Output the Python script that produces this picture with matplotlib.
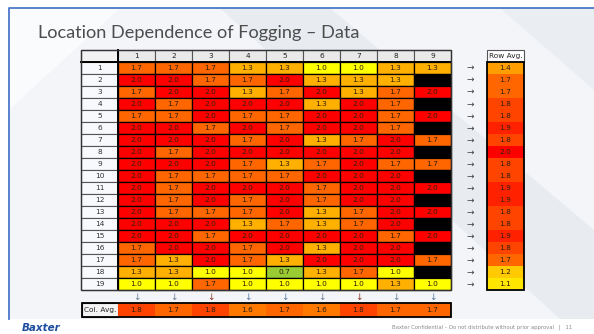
import numpy as np
import matplotlib.pyplot as plt
from matplotlib.colors import LinearSegmentedColormap
from matplotlib.patches import Rectangle, Polygon

# fogging score per location (row 1-19, column 1-9); nan = no position (black)
columns = ["1", "2", "3", "4", "5", "6", "7", "8", "9"]
rows = [str(i) for i in range(1, 20)]
n = np.nan
scores = np.array([
    [1.7, 1.7, 1.7, 1.3, 1.3, 1.0, 1.0, 1.3, 1.3],
    [2.0, 2.0, 1.7, 1.7, 2.0, 1.3, 1.3, 1.3, n],
    [1.7, 2.0, 2.0, 1.3, 1.7, 2.0, 1.3, 1.7, 2.0],
    [2.0, 1.7, 2.0, 2.0, 2.0, 1.3, 2.0, 1.7, n],
    [1.7, 1.7, 2.0, 1.7, 1.7, 2.0, 2.0, 1.7, 2.0],
    [2.0, 2.0, 1.7, 2.0, 1.7, 2.0, 2.0, 1.7, n],
    [2.0, 2.0, 2.0, 1.7, 2.0, 1.3, 1.7, 2.0, 1.7],
    [2.0, 1.7, 2.0, 2.0, 2.0, 2.0, 2.0, 2.0, n],
    [2.0, 2.0, 2.0, 1.7, 1.3, 1.7, 2.0, 1.7, 1.7],
    [2.0, 1.7, 1.7, 1.7, 1.7, 2.0, 2.0, 2.0, n],
    [2.0, 1.7, 2.0, 2.0, 2.0, 1.7, 2.0, 2.0, 2.0],
    [2.0, 1.7, 2.0, 1.7, 2.0, 1.7, 2.0, 2.0, n],
    [2.0, 1.7, 1.7, 1.7, 2.0, 1.3, 1.7, 2.0, 2.0],
    [2.0, 2.0, 2.0, 1.3, 1.7, 1.3, 1.7, 2.0, n],
    [2.0, 2.0, 1.7, 2.0, 2.0, 2.0, 2.0, 1.7, 2.0],
    [1.7, 2.0, 2.0, 1.7, 2.0, 1.3, 2.0, 2.0, n],
    [1.7, 1.3, 2.0, 1.7, 1.3, 2.0, 2.0, 2.0, 1.7],
    [1.3, 1.3, 1.0, 1.0, 0.7, 1.3, 1.7, 1.0, n],
    [1.0, 1.0, 1.7, 1.0, 1.0, 1.0, 1.0, 1.3, 1.0],
])
row_avg = [1.4, 1.7, 1.7, 1.8, 1.8, 1.9, 1.8, 2.0, 1.8, 1.8,
           1.9, 1.9, 1.8, 1.8, 1.9, 1.8, 1.7, 1.2, 1.1]
col_avg = [1.8, 1.7, 1.8, 1.6, 1.7, 1.6, 1.8, 1.7, 1.7]

# colour scale like the conditional formatting in the slide
cmap = LinearSegmentedColormap.from_list(
    "fog", [(0.0, "#99cc33"), (0.3 / 1.3, "#ffff00"), (0.6 / 1.3, "#ffb000"),
            (1.0 / 1.3, "#ff6600"), (1.0, "#ff0000")])
def col_of(v):
    return cmap((v - 0.7) / 1.3)

W, H = 594, 334
fig = plt.figure(figsize=(W / 100, H / 100), dpi=100)
ax = fig.add_axes([0, 0, 1, 1])
ax.set_xlim(0, W)
ax.set_ylim(H, 0)
ax.axis("off")

# slide background
ax.add_patch(Rectangle((9, 8), W - 9, 311, facecolor="#f3f5f8", edgecolor="none", zorder=0))
ax.add_patch(Polygon([(220, 8), (330, 8), (594, 230), (594, 319), (560, 319)],
                     facecolor="#e8ecf1", edgecolor="none", zorder=0))
ax.add_patch(Polygon([(9, 8), (120, 8), (9, 110)], facecolor="#fafbfc", edgecolor="none", zorder=0))
ax.add_patch(Polygon([(500, 8), (594, 8), (594, 90)], facecolor="#eaeef3", edgecolor="none", zorder=0))
ax.plot([9, 9, W], [319, 8, 8], color="#4a78c8", lw=1.3, zorder=1)

ax.text(38, 38, "Location Dependence of Fogging \u2013 Data", fontsize=13.1,
        family="Lato", color="#4d4d4d", va="baseline", ha="left")

# table layout
x0, lab_w, cw = 81, 37, 37
y0, hh, rh = 50, 11.5, 12.05
xs = x0 + lab_w
ytop = y0 + hh
tfs = 5.3
tcol = "#2e1f0c"

# header row
ax.add_patch(Rectangle((x0, y0), lab_w, hh, facecolor="#f2f2f2", edgecolor="#555555", lw=0.8, zorder=2))
for j, c in enumerate(columns):
    ax.add_patch(Rectangle((xs + j * cw, y0), cw, hh, facecolor="#e9e9e9",
                           edgecolor="#555555", lw=0.8, zorder=2))
    ax.text(xs + (j + 0.5) * cw, y0 + hh / 2, c, fontsize=tfs, ha="center", va="center",
            color="#222222", zorder=4)

# data cells
for i, r in enumerate(rows):
    y = ytop + i * rh
    ax.add_patch(Rectangle((x0, y), lab_w, rh, facecolor="#f7f9fc", edgecolor="#555555", lw=0.8, zorder=2))
    ax.text(x0 + lab_w / 2, y + rh / 2, r, fontsize=tfs, ha="center", va="center", color="#333333", zorder=4)
    for j in range(len(columns)):
        v = scores[i, j]
        fc = "black" if np.isnan(v) else col_of(v)
        ax.add_patch(Rectangle((xs + j * cw, y), cw, rh, facecolor=fc, edgecolor="black", lw=0.9, zorder=2))
        if not np.isnan(v):
            ax.text(xs + (j + 0.5) * cw, y + rh / 2, f"{v:.1f}", fontsize=tfs, ha="center",
                    va="center", color=tcol, zorder=4)
    ax.text(470, y + rh / 2, "\u2192", fontsize=6.5, ha="center", va="center", color="#444444", zorder=4)

ybot = ytop + len(rows) * rh
ax.plot([xs, xs], [y0, ybot], color="black", lw=1.4, zorder=3)
ax.plot([x0, xs + 9 * cw], [ytop, ytop], color="black", lw=1.4, zorder=3)
ax.add_patch(Rectangle((x0, y0), xs + 9 * cw - x0, ybot - y0, facecolor="none",
                       edgecolor="#333333", lw=1.0, zorder=3))

# column averages
arrow_cols = ["#6a7f99", "#6a7f99", "#8a3a2a", "#5a7aa8", "#5a7aa8",
              "#6a7f99", "#8a3a2a", "#6a7f99", "#5a7aa8"]
ca_y, ca_h = 303, 14
ax.add_patch(Rectangle((x0 + 1, ca_y), lab_w - 1, ca_h, facecolor="#f4f4f4", edgecolor="#333333", lw=0.8, zorder=2))
ax.text(x0 + 1 + (lab_w - 1) / 2, ca_y + ca_h / 2, "Col. Avg.", fontsize=tfs, ha="center",
        va="center", color="#222222", zorder=4)
for j, v in enumerate(col_avg):
    ax.text(xs + (j + 0.5) * cw, 297.5, "\u2193", fontsize=6.5, ha="center", va="center",
            color=arrow_cols[j], zorder=4)
    ax.add_patch(Rectangle((xs + j * cw, ca_y), cw, ca_h, facecolor=col_of(v), edgecolor="none", zorder=2))
    ax.text(xs + (j + 0.5) * cw, ca_y + ca_h / 2, f"{v:.1f}", fontsize=tfs, ha="center",
            va="center", color=tcol, zorder=4)
ax.add_patch(Rectangle((x0 + 1, ca_y), xs + 9 * cw - x0 - 1, ca_h, facecolor="none",
                       edgecolor="black", lw=1.3, zorder=3))

# row averages
ra_x, ra_w = 487, 37
ax.add_patch(Rectangle((ra_x, y0), ra_w, hh, facecolor="white", edgecolor="#555555", lw=0.8, zorder=2))
ax.text(ra_x + ra_w / 2, y0 + hh / 2, "Row Avg.", fontsize=tfs, ha="center", va="center",
        color="#222222", zorder=4)
for i, v in enumerate(row_avg):
    y = ytop + i * rh
    ax.add_patch(Rectangle((ra_x, y), ra_w, rh, facecolor=col_of(v), edgecolor="none", zorder=2))
    ax.text(ra_x + ra_w / 2, y + rh / 2, f"{v:.1f}", fontsize=tfs, ha="center", va="center",
            color=tcol, zorder=4)
ax.add_patch(Rectangle((ra_x, ytop), ra_w, ybot - ytop, facecolor="none", edgecolor="black", lw=1.3, zorder=3))

# footer
ax.text(22, 328, "Baxter", fontsize=7.5, fontweight="bold", fontstyle="italic",
        color="#1f4ea0", ha="left", va="center")
ax.text(392, 327.5, "Baxter Confidential \u2013 Do not distribute without prior approval   |   11",
        fontsize=3.8, color="#8a8a8a", ha="left", va="center")

plt.savefig("out.png", dpi=100)
